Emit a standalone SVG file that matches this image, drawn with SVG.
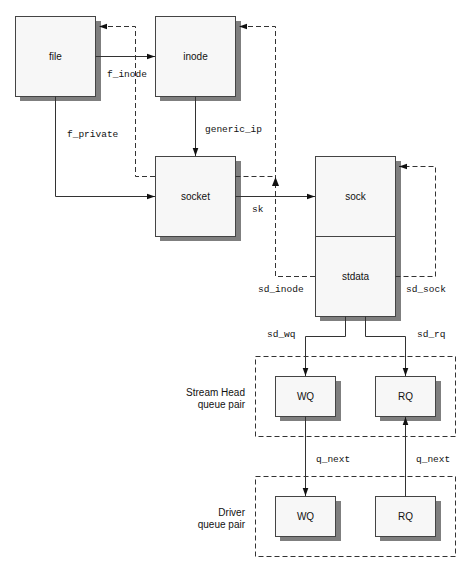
<svg xmlns="http://www.w3.org/2000/svg" width="472" height="572" viewBox="0 0 472 572">
<defs>
<style>
.box{fill:#f7f7f7;stroke:#444;stroke-width:1}
.shadow{fill:#7f7f7f;stroke:none}
.lbl{font-family:"Liberation Sans",Arial,sans-serif;font-size:10px;fill:#111;text-anchor:middle}
.side{font-family:"Liberation Sans",Arial,sans-serif;font-size:10px;fill:#111;text-anchor:end}
.mono{font-family:"Liberation Mono","Courier New",monospace;font-size:9.5px;fill:#111}
.line{fill:none;stroke:#333;stroke-width:1}
.dash{fill:none;stroke:#333;stroke-width:1;stroke-dasharray:5,3}
</style>
<marker id="arr" viewBox="0 0 10 10" refX="10" refY="5" markerWidth="8" markerHeight="8" markerUnits="userSpaceOnUse" orient="auto">
<path d="M0,1.5 L10,5 L0,8.5 Z" fill="#111"/>
</marker>
</defs>
<rect width="472" height="572" fill="#fff"/>

<g id="group-streamhead">
<rect x="255.5" y="356.5" width="200" height="80" class="dash"/>
<text x="245" y="396" class="side">Stream Head</text>
<text x="245" y="408" class="side">queue pair</text>
</g>
<g id="group-driver">
<rect x="255.5" y="476.5" width="200" height="80" class="dash"/>
<text x="245" y="516" class="side">Driver</text>
<text x="245" y="528" class="side">queue pair</text>
</g>

<g id="node-file">
<rect x="20" y="21" width="81" height="80" class="shadow"/>
<rect x="15.5" y="16.5" width="80" height="80" class="box"/>
<text x="55.5" y="60" class="lbl">file</text>
</g>
<g id="node-inode">
<rect x="160" y="21" width="81" height="80" class="shadow"/>
<rect x="155.5" y="16.5" width="80" height="80" class="box"/>
<text x="195.5" y="60" class="lbl">inode</text>
</g>
<g id="node-socket">
<rect x="160" y="161" width="81" height="80" class="shadow"/>
<rect x="155.5" y="156.5" width="80" height="80" class="box"/>
<text x="195.5" y="200" class="lbl">socket</text>
</g>
<g id="node-sock">
<rect x="320" y="161" width="81" height="160" class="shadow"/>
<rect x="315.5" y="156.5" width="80" height="80" class="box"/>
<text x="355.5" y="200" class="lbl">sock</text>
</g>
<g id="node-stdata">
<rect x="315.5" y="236.5" width="80" height="80" class="box"/>
<text x="355.5" y="280" class="lbl">stdata</text>
</g>
<g id="node-wq1">
<rect x="280" y="381" width="61" height="40" class="shadow"/>
<rect x="275.5" y="376.5" width="60" height="40" class="box"/>
<text x="305.5" y="400" class="lbl">WQ</text>
</g>
<g id="node-rq1">
<rect x="380" y="381" width="61" height="40" class="shadow"/>
<rect x="375.5" y="376.5" width="60" height="40" class="box"/>
<text x="405.5" y="400" class="lbl">RQ</text>
</g>
<g id="node-wq2">
<rect x="280" y="501" width="61" height="40" class="shadow"/>
<rect x="275.5" y="496.5" width="60" height="40" class="box"/>
<text x="305.5" y="520" class="lbl">WQ</text>
</g>
<g id="node-rq2">
<rect x="380" y="501" width="61" height="40" class="shadow"/>
<rect x="375.5" y="496.5" width="60" height="40" class="box"/>
<text x="405.5" y="520" class="lbl">RQ</text>
</g>

<g id="connectors">
<path d="M95.5,56.5 H155" class="line" marker-end="url(#arr)"/>
<path d="M55.5,96.5 V196.5 H155" class="line" marker-end="url(#arr)"/>
<path d="M195.5,96.5 V156" class="line" marker-end="url(#arr)"/>
<path d="M235.5,196.5 H315" class="line" marker-end="url(#arr)"/>
<path d="M155,176.5 H135.5 V26.5 H99" class="dash" marker-end="url(#arr)"/>
<path d="M235.5,176.5 H275.5" class="dash"/>
<path d="M315,276.5 H275.5 V26.5 H239" class="dash" marker-end="url(#arr)"/>
<path d="M275.5,177 L272,186 L279,186 Z" fill="#111"/>
<path d="M395.5,276.5 H435.5 V166.5 H399" class="dash" marker-end="url(#arr)"/>
<path d="M345.5,316.5 V336.5 H305.5 V376" class="line" marker-end="url(#arr)"/>
<path d="M365.5,316.5 V336.5 H405.5 V376" class="line" marker-end="url(#arr)"/>
<path d="M305.5,416.5 V496" class="line" marker-end="url(#arr)"/>
<path d="M405.5,496.5 V417" class="line" marker-end="url(#arr)"/>
</g>

<g id="labels">
<text x="107" y="76.5" class="mono">f_inode</text>
<text x="67" y="136.5" class="mono">f_private</text>
<text x="205" y="131.5" class="mono">generic_ip</text>
<text x="252" y="211.5" class="mono">sk</text>
<text x="258" y="291.5" class="mono">sd_inode</text>
<text x="406" y="291.5" class="mono">sd_sock</text>
<text x="267" y="336.5" class="mono">sd_wq</text>
<text x="417" y="336.5" class="mono">sd_rq</text>
<text x="316" y="461.5" class="mono">q_next</text>
<text x="416" y="461.5" class="mono">q_next</text>
</g>
</svg>
